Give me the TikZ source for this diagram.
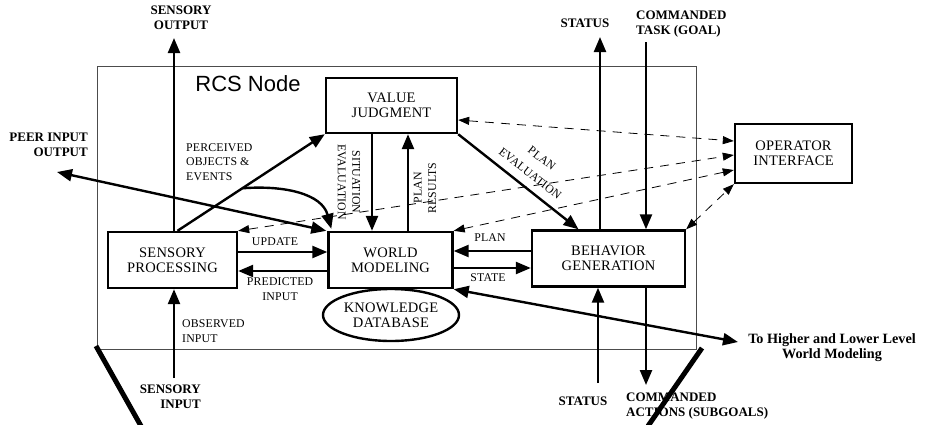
\documentclass[tikz,border=0pt]{standalone}
\usepackage{fontspec}
\setmainfont{Liberation Serif}
\newfontfamily\spacedfont[LetterSpace=1.5]{Liberation Serif}
\newfontfamily\headfont{Liberation Sans}
\usetikzlibrary{arrows.meta,shapes.geometric}

\begin{document}
\begin{tikzpicture}[x=1pt,y=-1pt,
  blk/.style={draw, line width=2.4pt, inner sep=0pt, align=center,
    font=\spacedfont\fontsize{14.5}{15}\selectfont},
  flow/.style={line width=2.4pt, -{Triangle[length=15pt,width=12pt]}},
  both/.style={line width=2.4pt,
    {Triangle[length=15pt,width=12pt]}-{Triangle[length=15pt,width=12pt]}},
  link/.style={line width=0.8pt, dash pattern=on 9pt off 7pt,
    {Triangle[length=11pt,width=8pt]}-{Triangle[length=11pt,width=8pt]}},
  tag/.style={inner sep=0pt, font=\spacedfont\fontsize{11.8}{14.5}\selectfont},
  io/.style={inner sep=0pt, font=\bfseries\fontsize{13}{15}\selectfont},
  frame/.style={draw=black!70, line width=0.8pt},
  strut/.style={line width=5pt}
]
\useasboundingbox (0,0) rectangle (932,424);

% node boundary and its supports
\draw[frame] (97,66) rectangle (696,349);
\node[inner sep=0pt, font=\headfont\fontsize{22}{24}\selectfont] (title) at (248,84) {RCS Node};
\draw[strut] (96,346) -- (141,426);
\draw[strut] (702,348) -- (648,426);

% functional modules
\node[blk, minimum width=131pt, minimum height=55pt] (VJ) at (391.5,105.5) {VALUE\\JUDGMENT};
\node[blk, minimum width=129pt, minimum height=56pt] (SP) at (172.5,260) {SENSORY\\PROCESSING};
\node[blk, minimum width=124pt, minimum height=56pt] (WM) at (390.5,260) {WORLD\\MODELING};
\node[blk, minimum width=153pt, minimum height=56pt] (BG) at (608.5,258.5) {BEHAVIOR\\GENERATION};
\node[blk, minimum width=117pt, minimum height=59pt] (OI) at (793.5,153.5) {OPERATOR\\INTERFACE};
\node[blk, ellipse, minimum width=136pt, minimum height=52pt] (KD) at (391,315) {KNOWLEDGE\\DATABASE};

% external end points
\coordinate (so) at (174,38);
\coordinate (peer) at (57,172);
\coordinate (st) at (600,37);
\coordinate (ct) at (646,42);
\coordinate (si) at (174,378);
\coordinate (sb) at (598,383);
\coordinate (ca) at (646,385);
\coordinate (hl) at (738,342);

% sensory processing
\draw[flow] (SP.north -| so) -- (so);
\draw[flow] (si) -- (SP.south -| si);
\draw[flow] ([xshift=5pt]SP.north) -- (VJ.south west) coordinate[pos=0.44] (bend);
\draw[flow] (bend) .. controls (285,185) and (322,194) .. ([xshift=4pt,yshift=2pt]WM.north west);
\draw[both] (peer) -- ([xshift=-1pt]WM.north west);
\draw[flow] ([yshift=8pt]SP.east) -- ([yshift=8pt]WM.west);
\draw[flow] ([yshift=-11pt]WM.west) -- ([yshift=-11pt]SP.east);

% value judgment
\draw[flow] ([xshift=-19.5pt]VJ.south) -- ([xshift=-18.5pt]WM.north);
\draw[flow] ([xshift=17.5pt]WM.north) -- ([xshift=16.5pt]VJ.south);
\draw[flow] (VJ.south east) -- ([xshift=-30pt]BG.north);

% behavior generation
\draw[flow] ([yshift=7.5pt]BG.west) -- ([yshift=9pt]WM.east);
\draw[flow] ([yshift=-8pt]WM.east) -- ([yshift=-9.5pt]BG.west);
\draw[flow] (BG.north -| st) -- (st);
\draw[flow] (ct) -- (BG.north -| ct);
\draw[flow] (sb) -- (BG.south -| sb);
\draw[flow] (BG.south -| ca) -- (ca);
\draw[both] (WM.south east) -- (hl);

% operator interface links
\draw[link] ([yshift=-14.5pt]VJ.east) -- ([yshift=12.5pt]OI.west);
\draw[link] (SP.north east) -- ([yshift=-1.5pt]OI.west);
\draw[link] (WM.north east) -- ([yshift=-16.5pt]OI.west);
\draw[link] (BG.north east) -- (OI.south west);

% flow labels
\node[tag, anchor=west, align=left] (lpo) at (186,162) {PERCEIVED\\OBJECTS \&\\EVENTS};
\node[tag, align=center, rotate=-90] (lse) at (349,182) {SITUATION\\EVALUATION};
\node[tag, align=center, rotate=90] (lpr) at (425,188) {PLAN\\RESULTS};
\node[tag, align=center, rotate=-38, font=\spacedfont\fontsize{11.8}{19}\selectfont] (lpe) at (536,166) {PLAN\\EVALUATION};
\node[tag] (lup) at (275,242) {UPDATE};
\node[tag, align=center] (lpi) at (280,289) {PREDICTED\\INPUT};
\node[tag] (lpl) at (490,238) {PLAN};
\node[tag] (lst) at (488,278) {STATE};
\node[tag, anchor=west, align=left] (lob) at (182,331) {OBSERVED\\INPUT};

% external labels
\node[io, align=center] (tso) at (181,18) {SENSORY\\OUTPUT};
\node[io, anchor=east, align=right] (tpe) at (88,145) {PEER INPUT\\OUTPUT};
\node[io] (tst) at (585,23) {STATUS};
\node[io, anchor=west, align=left] (tct) at (636,24) {COMMANDED\\TASK (GOAL)};
\node[io, anchor=east, align=right] (tsi) at (201,397) {SENSORY\\INPUT};
\node[io] (tsb) at (583,401) {STATUS};
\node[io, anchor=west, align=left] (tca) at (626,406) {COMMANDED\\ACTIONS (SUBGOALS)};
\node[io, align=center, font=\bfseries\fontsize{14.2}{15}\selectfont] (thl) at (832,348) {To Higher and Lower Level\\World Modeling};
\end{tikzpicture}
\end{document}
